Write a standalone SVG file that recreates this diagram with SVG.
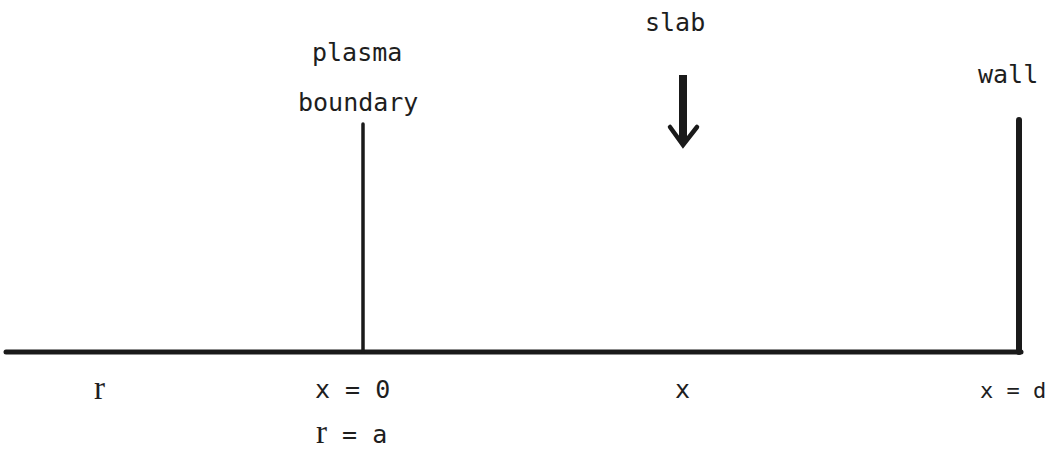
<svg xmlns="http://www.w3.org/2000/svg" width="1055" height="455" viewBox="0 0 1055 455">
<style>
.t{font-family:"DejaVu Sans Mono","Liberation Mono",monospace;font-size:25px;fill:#1e1e1e}
.s{font-family:"Liberation Serif","DejaVu Serif",serif;font-size:33px}
.ln{stroke:#1a1a1a;fill:none;stroke-linecap:round}
</style>
<rect width="1055" height="455" fill="#ffffff"/>
<g id="connectors">
<line class="ln" x1="6" y1="352" x2="1021" y2="352" stroke-width="5"/>
</g>
<g id="plasma-boundary">
<line class="ln" x1="363" y1="124" x2="363" y2="352" stroke-width="3.5"/>
<text class="t" x="312" y="61">plasma</text>
<text class="t" x="298" y="111">boundary</text>
</g>
<g id="wall">
<line class="ln" x1="1019" y1="120" x2="1019" y2="352" stroke-width="6"/>
<text class="t" x="978" y="83">wall</text>
</g>
<g id="slab">
<text class="t" x="645" y="31">slab</text>
<line x1="683" y1="75" x2="683" y2="141" stroke="#1a1a1a" stroke-width="8"/>
<polyline class="ln" points="670,127 683,145 697,127" stroke-width="4.5" stroke-linejoin="miter"/>
</g>
<g id="labels">
<text class="t" x="94" y="399"><tspan class="s">r</tspan></text>
<text class="t" x="315" y="398">x = 0</text>
<text class="t" x="316" y="443"><tspan class="s">r</tspan> = a</text>
<text class="t" x="675" y="398">x</text>
<text class="t" x="980" y="398" style="font-size:22px">x = d</text>
</g>
</svg>
